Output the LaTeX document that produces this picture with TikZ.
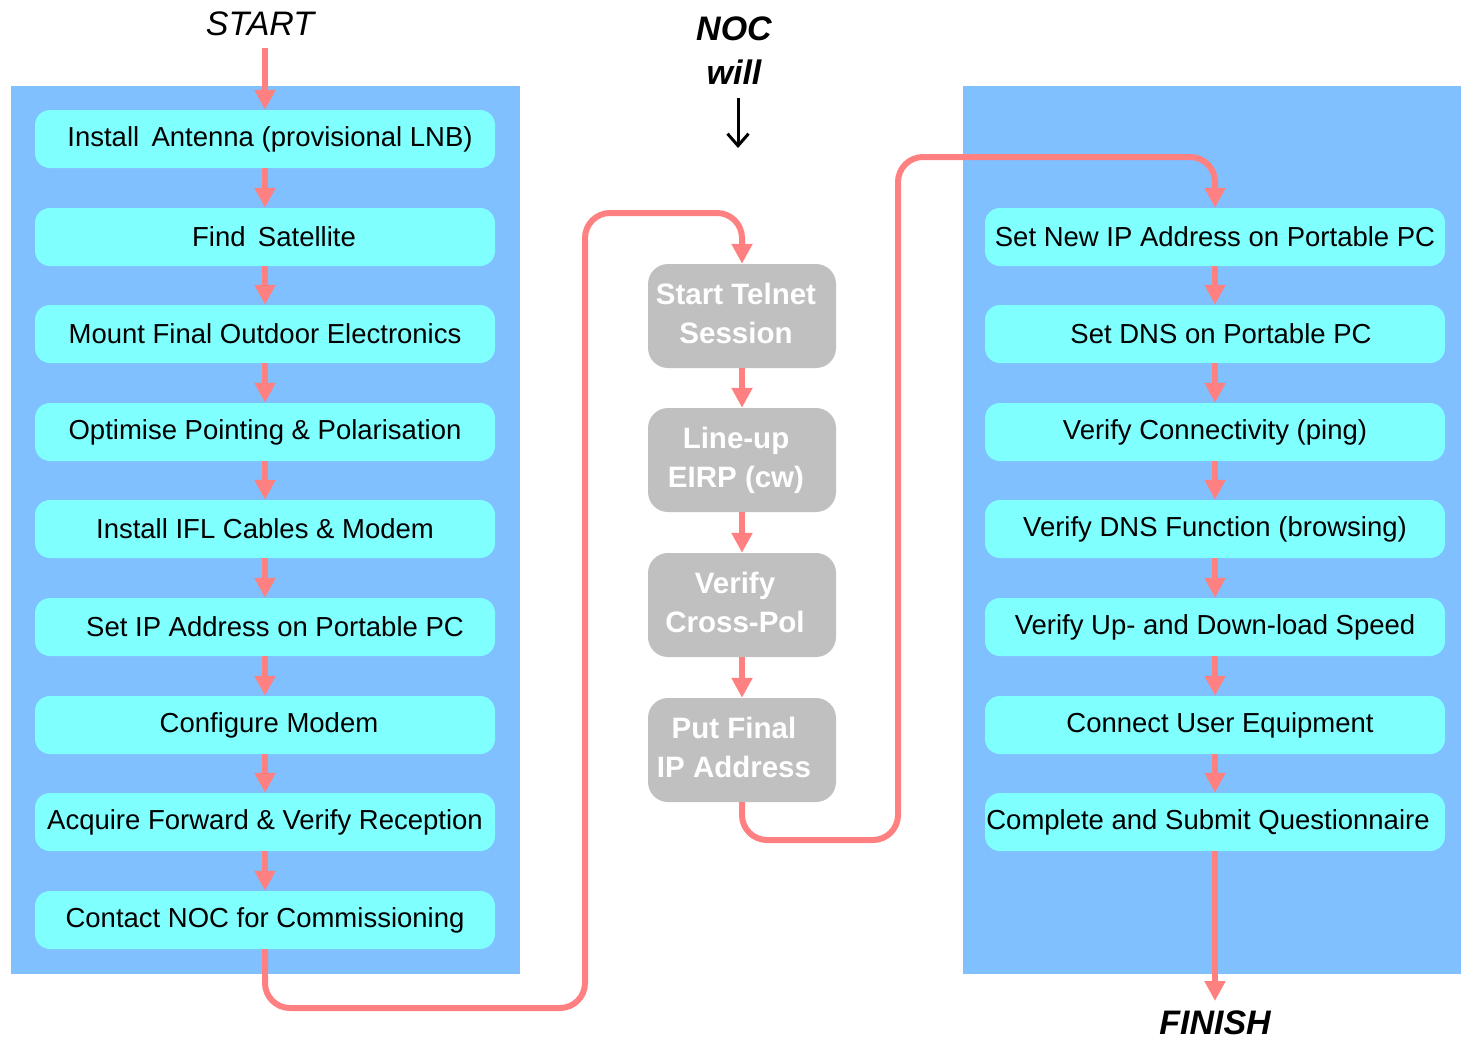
\documentclass[tikz,border=0pt]{standalone}
\usepackage{fontspec}
\setmainfont{Liberation Sans}
\usetikzlibrary{arrows.meta}
\definecolor{panelblue}{HTML}{80C0FF}
\definecolor{boxcyan}{HTML}{80FFFF}
\definecolor{flowred}{HTML}{FF8080}
\definecolor{boxgray}{HTML}{C0C0C0}
\tikzset{
  stepbox/.style={fill=boxcyan, rounded corners=15pt, minimum width=460pt, minimum height=58pt, inner sep=0pt,
    font=\fontsize{27.5}{33}\selectfont},
  noctask/.style={fill=boxgray, rounded corners=20pt, minimum width=188pt, minimum height=104pt, inner sep=0pt,
    text=white, align=center, font=\fontsize{29.5}{39}\selectfont\bfseries},
  flow/.style={draw=flowred, line width=6pt, -{Triangle[length=20pt,width=20pt]}, flowred},
  bigword/.style={font=\fontsize{34}{40}\selectfont\itshape, inner sep=2pt},
  panel/.style={fill=panelblue}
}
\begin{document}
\begin{tikzpicture}[x=1pt,y=-1pt]
\useasboundingbox (0,0) rectangle (1461,1039);
% panels
\fill[panel] (11,86) rectangle (520,974);
\fill[panel] (963,86) rectangle (1461,974);
% left column
\node[stepbox] (l1) at (265,139) {\hspace*{10pt}Install\hspace{0.45em}Antenna (provisional LNB)};
\node[stepbox] (l2) at (265,237) {\hspace*{18pt}Find\hspace{0.45em}Satellite};
\node[stepbox] (l3) at (265,334) {Mount Final Outdoor Electronics};
\node[stepbox] (l4) at (265,432) {Optimise Pointing \& Polarisation};
\node[stepbox] (l5) at (265,529) {Install IFL Cables \& Modem};
\node[stepbox] (l6) at (265,627) {\hspace*{20pt}Set IP Address on Portable PC};
\node[stepbox] (l7) at (265,725) {\hspace*{8pt}Configure Modem};
\node[stepbox] (l8) at (265,822) {Acquire Forward \& Verify Reception};
\node[stepbox] (l9) at (265,920) {Contact NOC for Commissioning};
% middle column
\node[noctask] (g1) at (742,316) {\raisebox{5pt}{\begin{tabular}{@{}c@{}}Start Telnet\\Session\end{tabular}}\hspace*{12pt}};
\node[noctask] (g2) at (742,460) {\raisebox{4pt}{\begin{tabular}{@{}c@{}}Line-up\\EIRP (cw)\end{tabular}}\hspace*{12pt}};
\node[noctask] (g3) at (742,605) {\raisebox{4pt}{\begin{tabular}{@{}c@{}}Verify\\Cross-Pol\end{tabular}}\hspace*{14pt}};
\node[noctask] (g4) at (742,750) {\raisebox{2pt}{\begin{tabular}{@{}c@{}}Put Final\\IP Address\end{tabular}}\hspace*{16pt}};
% right column
\node[stepbox] (r1) at (1215,237) {Set New IP Address on Portable PC};
\node[stepbox] (r2) at (1215,334) {\hspace*{12pt}Set DNS on Portable PC};
\node[stepbox] (r3) at (1215,432) {Verify Connectivity (ping)};
\node[stepbox] (r4) at (1215,529) {Verify DNS Function (browsing)};
\node[stepbox] (r5) at (1215,627) {Verify Up- and Down-load Speed};
\node[stepbox] (r6) at (1215,725) {\hspace*{10pt}Connect User Equipment};
\node[stepbox] (r7) at (1215,822) {Complete and Submit Questionnaire\hspace*{14pt}};
% labels
\node[bigword] (start) at (260,24) {START};
\node[bigword, font=\fontsize{34}{40}\selectfont\bfseries\itshape] (finish) at (1215,1023) {FINISH};
\node[bigword, font=\fontsize{34}{44}\selectfont\bfseries\itshape, align=center] (noc) at (734,51) {NOC\\will};
\coordinate (nocbeg) at (738,98);
\coordinate (nocend) at (738,148);
\draw[line width=3pt, -{Straight Barb[length=12pt,width=21pt]}] (nocbeg) -- (nocend);
% flow arrows
\coordinate (startbeg) at (265,48);
\draw[flow] (startbeg) -- (l1.north);
\foreach \a/\b in {l1/l2,l2/l3,l3/l4,l4/l5,l5/l6,l6/l7,l7/l8,l8/l9,
                   g1/g2,g2/g3,g3/g4,
                   r1/r2,r2/r3,r3/r4,r4/r5,r5/r6,r6/r7}
  \draw[flow] (\a.south) -- (\b.north);
\coordinate (c1) at (585,1008);
\coordinate (c2) at (585,213);
\coordinate (c3) at (898,840);
\coordinate (c4) at (898,157);
\coordinate (finend) at (1215,1001);
\draw[flow, rounded corners=25pt] (l9.south) |- (c1) -- (c2) -| (g1.north);
\draw[flow, rounded corners=25pt] (g4.south) |- (c3) -- (c4) -| (r1.north);
\draw[flow] (r7.south) -- (finend);
\end{tikzpicture}
\end{document}
